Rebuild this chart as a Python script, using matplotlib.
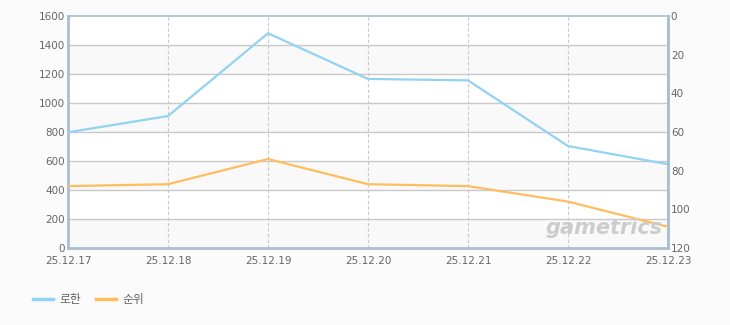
import matplotlib
matplotlib.use('Agg')
import matplotlib.pyplot as plt
from matplotlib.lines import Line2D

# 데이터
dates = ['25.12.17', '25.12.18', '25.12.19', '25.12.20', '25.12.21', '25.12.22', '25.12.23']
users = [798, 910, 1481, 1166, 1156, 703, 578]   # 로한 (left axis)
rank = [88, 87, 74, 87, 88, 96, 109]              # 순위 (right axis, inverted)

blue = '#92d2f2'
orange = '#ffbd5e'
frame = '#a9bdd3'
grid_c = '#c9c9c9'
txt_c = '#666666'

plt.rcParams['font.family'] = ['DejaVu Sans', 'Noto Sans CJK KR']

fig = plt.figure(figsize=(7.3, 3.25), dpi=100, facecolor='#fbfbfb')
ax = fig.add_axes([68/730, 1 - 248/325, 600/730, 232/325])
ax.set_facecolor('white')

x = list(range(len(dates)))
ax.set_xlim(0, len(dates) - 1)
ax.set_ylim(0, 1600)

# 배경 밴드
for lo in range(0, 1600, 400):
    ax.axhspan(lo, lo + 200, color='#f9f9f9', zorder=0, lw=0)

ax.set_yticks(range(0, 1601, 200))
for yv in range(200, 1600, 200):
    ax.axhline(yv, color=grid_c, lw=1, zorder=1)
for xv in x[1:-1]:
    ax.axvline(xv, color=grid_c, lw=0.8, ls=(0, (3, 2)), zorder=1)

ax.plot(x, users, color=blue, lw=1.6, zorder=3)

ax.set_xticks(x)
ax.set_xticklabels(dates)
ax.tick_params(axis='x', length=0, labelsize=7.5, labelcolor=txt_c, pad=6)
ax.tick_params(axis='y', length=0, labelsize=7.5, labelcolor=txt_c, pad=2)
for s in ax.spines.values():
    s.set_color(frame)
    s.set_linewidth(1.2)
ax.spines['left'].set_linewidth(2)
ax.spines['bottom'].set_linewidth(2)

ax2 = ax.twinx()
ax2.set_ylim(120, 0)
ax2.set_yticks(range(0, 121, 20))
ax2.plot(x, rank, color=orange, lw=1.6, zorder=3)
ax2.tick_params(axis='y', length=0, labelsize=7.5, labelcolor=txt_c, pad=2)
for s in ax2.spines.values():
    s.set_visible(False)
ax2.spines['right'].set_visible(True)
ax2.spines['right'].set_color(frame)
ax2.spines['right'].set_linewidth(2)

# 워터마크
fig.text(604/730, 1 - 228/325, 'gametrics', fontsize=15, fontweight='bold', style='italic',
         color='#cccccc', ha='center', va='center')

handles = [Line2D([], [], color=blue, lw=2.5), Line2D([], [], color=orange, lw=2.5)]
leg = fig.legend(handles, ['로한', '순위'], loc='center left', bbox_to_anchor=(22/730, 1 - 300/325),
                 ncol=2, frameon=False, handlelength=1.7, handletextpad=0.6,
                 columnspacing=1.2, prop={'family': ['Noto Sans CJK KR'], 'size': 8.5})
for t in leg.get_texts():
    t.set_color(txt_c)

fig.savefig('out.png', dpi=100, facecolor=fig.get_facecolor())
